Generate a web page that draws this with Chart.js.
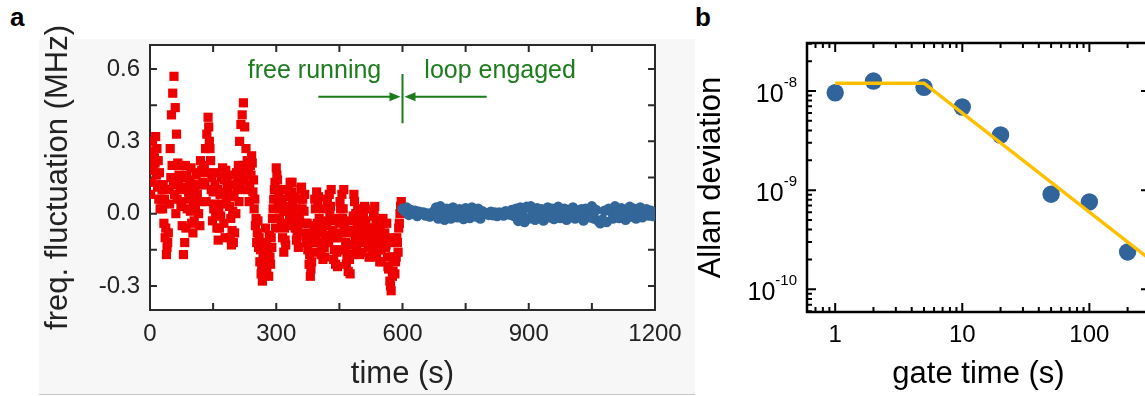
<!DOCTYPE html>
<html>
<head>
<meta charset="utf-8">
<script src="https://cdn.jsdelivr.net/npm/chart.js@4.4.1/dist/chart.umd.min.js"></script>
<style>
  html, body { margin: 0; padding: 0; width: 1145px; height: 396px; overflow: hidden; background: #fff; }
  #panelA { position: absolute; left: 39px; top: 39px; width: 656px; height: 355px; background: #f7f7f7; border-bottom: 1.5px solid #c8c8c8; }
  #wrapA { position: absolute; left: 0; top: 0; width: 700px; height: 396px; }
  #wrapB { position: absolute; left: 690px; top: 0; width: 470px; height: 396px; }
  .tag { position: absolute; font: bold 26px "Liberation Sans", Arial, sans-serif; line-height: 26px; color: #000; }
</style>
</head>
<body>
<div id="panelA"></div>
<div class="tag" style="left:10px; top:4px;">a</div>
<div class="tag" style="left:695px; top:4px;">b</div>
<div id="wrapA"><canvas id="chartA" width="700" height="396"></canvas></div>
<div id="wrapB"><canvas id="chartB" width="470" height="396"></canvas></div>
<script>
// panel a: frequency fluctuation (MHz)
// free running: samples every 3 s from 0 s, plus the in-between samples from 1.5 s
// loop engaged: samples every 5 s from 600 s
const redStart = 0, redStep = 3;
const blueStart = 600, blueStep = 5;
const redFluct = [
  0.20, 0.25, 0.30, 0.26, 0.21, 0.16, 0.11, 0.06, 0.02, 0.06,
  0.02, -0.04, -0.10, -0.17, -0.12, 0.10, 0.27, 0.41, 0.50, 0.57,
  0.44, 0.33, 0.21, 0.16, 0.11, 0.05, 0.10,
  0.15, 0.20, 0.16, 0.11, 0.06, 0.01, -0.04, -0.08,
  -0.03, 0.02, 0.07, 0.12, 0.17, 0.22, 0.18, 0.13,
  0.19, 0.27, 0.33, 0.40, 0.30, 0.22, 0.15, 0.09,
  0.04, -0.01, -0.06, -0.11, -0.06, -0.01, 0.04, 0.09, 0.14,
  0.18, 0.13, 0.08, 0.03, -0.02, -0.07, -0.12, -0.08, 0.00,
  0.10, 0.20, 0.30, 0.37, 0.41, 0.46, 0.36, 0.27,
  0.22, 0.17, 0.12, 0.16, 0.21, 0.14, 0.06, -0.02,
  -0.08, -0.14, -0.20, -0.25, -0.28, -0.23, -0.18, -0.13, -0.20, -0.26,
  -0.18, -0.10, -0.02, 0.06, 0.13, 0.19, 0.14, 0.08, 0.02,
  -0.04, -0.10, -0.16, -0.11, -0.05, 0.01, 0.07, 0.13,
  0.09, 0.04, -0.01, -0.06, -0.11, -0.06, 0.00, 0.06,
  0.11, 0.06, 0.01, -0.04, -0.09,
  -0.15, -0.21, -0.26, -0.20, -0.12,
  -0.05, 0.02, 0.09, 0.04, -0.02, -0.08, -0.14, -0.19,
  -0.14, -0.09, -0.03, 0.03, 0.08, 0.03, -0.03, -0.09, -0.15, -0.21, -0.16,
  -0.10, -0.04, 0.02, 0.08, 0.02, -0.05, -0.12, -0.18, -0.24, -0.19,
  -0.13, -0.07, -0.01, 0.05, 0.00, -0.06, -0.12, -0.17,
  -0.12, -0.06, 0.00, 0.03, -0.03, -0.09, -0.14, -0.18,
  -0.13, -0.07, -0.01, 0.03, -0.03, -0.09, -0.15, -0.20, -0.15, -0.09, -0.04,
  -0.08, -0.13, -0.18, -0.23, -0.28, -0.32, -0.26, -0.20,
  -0.25, -0.18, -0.12, -0.06, 0.00, 0.05
];
const redFluctMid = [
  0.08, 0.13, 0.18, 0.23, 0.32, 0.27, 0.22, 0.17, 0.12, 0.10,
  0.12, 0.06, -0.06, -0.14, -0.08, 0.04, 0.15, 0.20, 0.12, 0.08,
  0.00, 0.06, 0.14, 0.20, 0.03, -0.05, -0.17,
  -0.12, -0.06, 0.02, 0.09, 0.14, 0.19, 0.12, 0.04,
  0.10, 0.16, 0.08, 0.00, -0.05, 0.05, 0.12, 0.20,
  0.12, 0.05, 0.17, 0.36, 0.27, 0.10, -0.03, 0.02,
  0.12, 0.17, 0.10, 0.02, 0.08, 0.15, 0.19, -0.04, -0.10,
  0.06, 0.11, 0.16, -0.10, -0.13, 0.01, 0.07, 0.12, 0.17,
  0.15, 0.05, 0.12, 0.18, 0.20, 0.14, 0.10, 0.17,
  0.10, 0.05, 0.20, 0.24, 0.09, 0.02, -0.05, -0.12,
  -0.03, -0.10, -0.15, -0.22, -0.18, -0.12, -0.06, -0.24, -0.16, -0.09,
  -0.21, -0.14, 0.02, 0.10, -0.06, 0.16, 0.04, -0.02, 0.10,
  0.06, 0.01, -0.06, -0.13, 0.03, 0.10, -0.02, 0.08,
  0.13, -0.04, 0.07, 0.02, -0.09, -0.14, -0.03, 0.10,
  0.02, -0.08, 0.08, -0.12, -0.04,
  -0.10, -0.17, -0.23, -0.08, -0.16,
  0.06, -0.10, -0.04, 0.07, -0.12, -0.17, -0.06, 0.02,
  -0.18, -0.05, 0.06, -0.12, 0.00, 0.10, -0.07, -0.19, -0.10, -0.02, -0.22,
  -0.15, 0.05, -0.08, -0.02, 0.10, -0.15, -0.21, -0.08, -0.13, -0.25,
  -0.03, -0.17, 0.08, -0.10, -0.14, 0.02, -0.08, -0.03,
  -0.16, -0.02, -0.09, 0.02, -0.12, -0.06, -0.18, -0.10,
  -0.06, -0.16, 0.01, -0.10, -0.18, -0.04, -0.12, -0.07, -0.20, -0.02, -0.12,
  -0.14, -0.04, -0.22, -0.10, -0.30, -0.18, -0.24, -0.12,
  -0.20, -0.10, -0.16, -0.04, 0.03, 0.01
];
const blueFluct = [
  0.02, 0.01, 0.025, -0.005, 0.015, 0.0, 0.012, -0.01, 0.008, 0.0,
  0.005, -0.008, 0.0, -0.012, 0.002, 0.01, 0.025, -0.02, 0.03, 0.015,
  -0.025, 0.02, 0.005, -0.02, 0.025, 0.01, -0.015, 0.018, 0.0, -0.022,
  0.022, 0.008, -0.018, 0.025, 0.0, -0.012, 0.02, -0.02, 0.01, 0.002,
  0.0, -0.005, 0.008, -0.006, 0.004, -0.01, 0.005, 0.0, -0.008, 0.01,
  0.006, -0.004, 0.015, -0.01, 0.02, -0.03, 0.025, 0.005, -0.035, 0.028,
  -0.02, 0.03, 0.0, -0.025, 0.022, -0.01, 0.018, -0.028, 0.012, 0.025,
  -0.015, 0.02, -0.022, 0.01, 0.028, -0.018, 0.005, 0.02, -0.025, 0.015,
  -0.005, 0.025, -0.02, 0.012, -0.01, 0.018, -0.028, 0.02, 0.0, -0.015,
  0.03, -0.02, 0.015, -0.03, -0.04, -0.025, 0.012, -0.035, 0.02, 0.01,
  -0.02, 0.03, 0.005, -0.018, 0.022, 0.0, -0.025, 0.015, 0.028, -0.012,
  0.02, -0.02, 0.01, 0.025, -0.015, 0.005, 0.018, -0.008, 0.012, -0.01,
  0.005
];
const xTicksA = [0, 300, 600, 900, 1200];
const yTicksA = [-0.3, 0.0, 0.3, 0.6];

// panel b: Allan deviation vs gate time
const gateTimes = [1, 2, 5, 10, 20, 50, 100, 200];
const allanDev = [0.96e-8, 1.26e-8, 1.09e-8, 6.9e-9, 3.6e-9, 0.91e-9, 7.6e-10, 2.38e-10];
const fitTimes = [1, 5, 300];
const fitDev = [1.2e-8, 1.2e-8, 2.0e-10];
const xTicksB = [1, 10, 100];
const yTicksB = [1e-10, 1e-9, 1e-8];

const FONT = '"Liberation Sans", Arial, sans-serif';
Chart.defaults.font.family = FONT;

// frame and inward ticks on all four sides
const frameTicks = {
  id: 'frameTicks',
  beforeDraw(chart, args, opts) {
    if (!opts.plotBg) return;
    const a = chart.chartArea, c = chart.ctx;
    c.save();
    c.fillStyle = opts.plotBg;
    c.fillRect(a.left, a.top, a.right - a.left, a.bottom - a.top);
    c.restore();
  },
  beforeDatasetsDraw(chart, args, opts) {
    const { ctx, chartArea: a, scales: { x, y } } = chart;
    ctx.save();
    ctx.strokeStyle = opts.color;
    ctx.lineWidth = opts.tickWidth;
    ctx.beginPath();
    opts.xTicks.forEach(([v, len]) => {
      const px = x.getPixelForValue(v);
      if (px < a.left - 1 || px > a.right + 1) return;
      ctx.moveTo(px, a.bottom); ctx.lineTo(px, a.bottom - len);
      ctx.moveTo(px, a.top); ctx.lineTo(px, a.top + len);
    });
    opts.yTicks.forEach(([v, len]) => {
      const py = y.getPixelForValue(v);
      if (py < a.top - 1 || py > a.bottom + 1) return;
      ctx.moveTo(a.left, py); ctx.lineTo(a.left + len, py);
      ctx.moveTo(a.right, py); ctx.lineTo(a.right - len, py);
    });
    ctx.stroke();
    ctx.lineWidth = opts.frameWidth;
    ctx.strokeRect(a.left, a.top, a.right - a.left, a.bottom - a.top);
    ctx.restore();
  }
};

// "10" with a raised exponent for the log axis of panel b
const powerLabels = {
  id: 'powerLabels',
  afterDraw(chart) {
    const { ctx, chartArea: a, scales: { y } } = chart;
    ctx.save();
    ctx.fillStyle = '#000';
    ctx.textAlign = 'right';
    ctx.textBaseline = 'alphabetic';
    yTicksB.forEach(v => {
      const py = y.getPixelForValue(v);
      const exp = String(Math.round(Math.log10(v)));
      const right = a.left - 10;
      ctx.font = '15px ' + FONT;
      const w = ctx.measureText(exp).width;
      ctx.fillText(exp, right, py - 4);
      ctx.font = '25px ' + FONT;
      ctx.fillText('10', right - w, py + 11);
    });
    ctx.restore();
  }
};

// green "free running / loop engaged" markers
const arrowY = 0.485;
const switchTime = 600;
const switchBar = [0.375, 0.58];
const arrowFrom = [400, 800];
const loopNotes = {
  id: 'loopNotes',
  afterDatasetsDraw(chart) {
    const { ctx, scales: { x, y } } = chart;
    const green = '#1c7c1c';
    const yA = y.getPixelForValue(arrowY);
    const xs = x.getPixelForValue(switchTime);
    ctx.save();
    ctx.strokeStyle = green;
    ctx.fillStyle = green;
    ctx.lineWidth = 2;
    ctx.beginPath();
    ctx.moveTo(xs, y.getPixelForValue(switchBar[0]));
    ctx.lineTo(xs, y.getPixelForValue(switchBar[1]));
    arrowFrom.forEach(t => {
      const x0 = x.getPixelForValue(t);
      const dir = x0 < xs ? 1 : -1;
      ctx.moveTo(x0, yA);
      ctx.lineTo(xs - dir * 10, yA);
    });
    ctx.stroke();
    arrowFrom.forEach(t => {
      const x0 = x.getPixelForValue(t);
      const dir = x0 < xs ? 1 : -1;
      const tip = xs - dir * 2;
      ctx.beginPath();
      ctx.moveTo(tip, yA);
      ctx.lineTo(tip - dir * 11, yA - 4.5);
      ctx.lineTo(tip - dir * 11, yA + 4.5);
      ctx.closePath();
      ctx.fill();
    });
    ctx.font = '25px ' + FONT;
    ctx.textAlign = 'center';
    ctx.textBaseline = 'alphabetic';
    ctx.fillText('free running', x.getPixelForValue(391), y.getPixelForValue(0.565));
    ctx.fillText('loop engaged', x.getPixelForValue(832), y.getPixelForValue(0.565));
    ctx.restore();
  }
};

const redPoints = redFluct.map((v, i) => ({ x: redStart + i * redStep, y: v }))
  .concat(redFluctMid.map((v, i) => ({ x: redStart + redStep / 2 + i * redStep, y: v })));

new Chart(document.getElementById('chartA'), {
  type: 'scatter',
  data: {
    datasets: [
      {
        label: 'loop engaged',
        data: blueFluct.map((v, i) => ({ x: blueStart + i * blueStep, y: v })),
        pointStyle: 'circle',
        pointRadius: 5.3,
        backgroundColor: '#336699',
        borderWidth: 0,
        order: 0,
      },
      {
        label: 'free running',
        data: redPoints,
        pointStyle: 'rect',
        pointRadius: 6.5,
        backgroundColor: '#ee0000',
        borderWidth: 0,
        order: 1,
      },
    ],
  },
  options: {
    responsive: false,
    animation: false,
    devicePixelRatio: 1,
    layout: { padding: { left: 40, top: 45, right: 45, bottom: 3 } },
    scales: {
      x: {
        type: 'linear',
        min: 0,
        max: 1200,
        grid: { display: false, drawTicks: false },
        border: { display: false },
        afterBuildTicks: s => { s.ticks = xTicksA.map(v => ({ value: v })); },
        afterFit: s => { s.height = 83; },
        ticks: { color: '#222', font: { size: 24 }, padding: 10, maxRotation: 0, autoSkip: false, callback: v => String(v) },
        title: { display: true, text: 'time (s)', color: '#222', font: { size: 31 }, padding: 0 },
      },
      y: {
        type: 'linear',
        min: -0.4,
        max: 0.7,
        grid: { display: false, drawTicks: false },
        border: { display: false },
        afterBuildTicks: s => { s.ticks = yTicksA.map(v => ({ value: v })); },
        afterFit: s => { s.width = 110; },
        ticks: { color: '#222', font: { size: 24 }, padding: 10, autoSkip: false, callback: v => v.toFixed(1) },
        title: { display: true, text: 'freq. fluctuation (MHz)', color: '#222', font: { size: 31 }, padding: 0 },
      },
    },
    plugins: {
      legend: { display: false },
      tooltip: { enabled: false },
      frameTicks: {
        plotBg: '#ffffff',
        color: '#2a2a2a',
        tickWidth: 2,
        frameWidth: 2,
        xTicks: [0, 150, 300, 450, 600, 750, 900, 1050, 1200].map(v => [v, 7]),
        yTicks: [-0.3, -0.15, 0, 0.15, 0.3, 0.45, 0.6].map(v => [v, 7]),
      },
    },
  },
  plugins: [frameTicks, loopNotes],
});

// log tick marks for panel b (decade and 2..9 minors)
const logTicks = (lo, hi, majorLen, minorLen) => {
  const out = [];
  for (let e = lo; e <= hi; e++) {
    for (let m = 1; m <= 9; m++) out.push([m * Math.pow(10, e), m === 1 ? majorLen : minorLen]);
  }
  return out;
};

new Chart(document.getElementById('chartB'), {
  type: 'scatter',
  data: {
    datasets: [
      {
        label: 'fit',
        data: fitTimes.map((t, i) => ({ x: t, y: fitDev[i] })),
        showLine: true,
        borderColor: '#ffc000',
        borderWidth: 3.5,
        pointRadius: 0,
        order: 0,
      },
      {
        label: 'Allan deviation',
        data: gateTimes.map((t, i) => ({ x: t, y: allanDev[i] })),
        pointStyle: 'circle',
        pointRadius: 8.7,
        backgroundColor: '#31649b',
        borderWidth: 0,
        order: 1,
      },
    ],
  },
  options: {
    responsive: false,
    animation: false,
    devicePixelRatio: 1,
    layout: { padding: { left: 3, top: 43, right: 10, bottom: 3 } },
    scales: {
      x: {
        type: 'logarithmic',
        min: 0.6,
        max: 300,
        grid: { display: false, drawTicks: false },
        border: { display: false },
        afterBuildTicks: s => { s.ticks = xTicksB.map(v => ({ value: v })); },
        afterFit: s => { s.height = 81; },
        ticks: { color: '#000', font: { size: 24 }, padding: 9, maxRotation: 0, autoSkip: false, callback: v => String(v) },
        title: { display: true, text: 'gate time (s)', color: '#000', font: { size: 31 }, padding: 0 },
      },
      y: {
        type: 'logarithmic',
        min: 5.9e-11,
        max: 3.05e-8,
        grid: { display: false, drawTicks: false },
        border: { display: false },
        afterBuildTicks: s => { s.ticks = yTicksB.map(v => ({ value: v })); },
        afterFit: s => { s.width = 114; },
        ticks: { display: false },
        title: { display: true, text: 'Allan deviation', color: '#000', font: { size: 31 }, padding: 0 },
      },
    },
    plugins: {
      legend: { display: false },
      tooltip: { enabled: false },
      frameTicks: {
        color: '#000',
        tickWidth: 2,
        frameWidth: 2.5,
        xTicks: logTicks(-1, 2, 9, 5),
        yTicks: logTicks(-11, -8, 9, 5),
      },
    },
  },
  plugins: [frameTicks, powerLabels],
});
</script>
</body>
</html>
